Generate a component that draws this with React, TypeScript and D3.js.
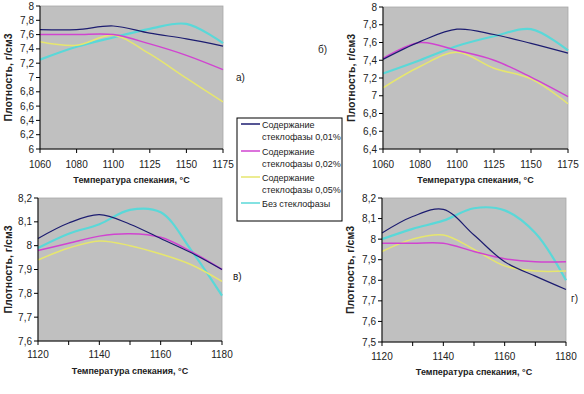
import React from "react";
import * as d3 from "d3";

const seriesNames = [
  ["Содержание", "стеклофазы 0,01%"],
  ["Содержание", "стеклофазы 0,02%"],
  ["Содержание", "стеклофазы 0,05%"],
  ["Без стеклофазы"],
];
const seriesColors = ["#1c1c70", "#d044d0", "#e6e66e", "#5ad8d8"];
const seriesWidths = [1.2, 1.5, 1.5, 2.2];

const topCategories = [1060, 1080, 1100, 1125, 1150, 1175];
const bottomCategories = [1120, 1130, 1140, 1150, 1160, 1170, 1180];
const bottomTickLabels = [1120, 1140, 1160, 1180];

// panel а)
const aNavy = [7.67, 7.67, 7.72, 7.62, 7.54, 7.44];
const aMagenta = [7.6, 7.6, 7.6, 7.47, 7.31, 7.11];
const aYellow = [7.5, 7.45, 7.59, 7.33, 6.99, 6.66];
const aCyan = [7.25, 7.43, 7.56, 7.68, 7.75, 7.48];
const aTicks = [6, 6.2, 6.4, 6.6, 6.8, 7, 7.2, 7.4, 7.6, 7.8, 8];

// panel б)
const bNavy = [7.41, 7.61, 7.75, 7.69, 7.59, 7.48];
const bMagenta = [7.42, 7.6, 7.51, 7.4, 7.21, 6.99];
const bYellow = [7.09, 7.33, 7.49, 7.31, 7.19, 6.91];
const bCyan = [7.25, 7.4, 7.56, 7.67, 7.75, 7.51];
const bTicks = [6.4, 6.6, 6.8, 7, 7.2, 7.4, 7.6, 7.8, 8];

// panel в)
const cNavy = [8.03, 8.095, 8.13, 8.09, 8.03, 7.97, 7.9];
const cMagenta = [7.98, 8.01, 8.04, 8.05, 8.035, 7.975, 7.9];
const cYellow = [7.94, 7.99, 8.02, 8.0, 7.965, 7.92, 7.85];
const cCyan = [7.99, 8.05, 8.09, 8.15, 8.14, 7.98, 7.79];
const cTicks = [7.6, 7.7, 7.8, 7.9, 8, 8.1, 8.2];

// panel г)
const dNavy = [8.03, 8.11, 8.145, 8.02, 7.89, 7.82, 7.755];
const dMagenta = [7.98, 7.98, 7.98, 7.94, 7.905, 7.89, 7.89];
const dYellow = [7.94, 8.0, 8.02, 7.95, 7.87, 7.845, 7.845];
const dCyan = [8.0, 8.05, 8.09, 8.15, 8.14, 8.03, 7.8];
const dTicks = [7.5, 7.6, 7.7, 7.8, 7.9, 8, 8.1, 8.2];

const yTitle = "Плотность, г/см3";
const xTitle = "Температура спекания, °C";

const FONT = "'Liberation Sans', Arial, sans-serif";

type PanelProps = {
  left: number; right: number; top: number; bottom: number;
  cats: number[]; tickCats: number[]; series: number[][]; yTicks: number[];
  xLabelY: number; xTitleY: number; yTitleX: number;
  label: string; labelX: number; labelY: number;
};

const fmt = (v: number) => {
  const s = d3.format(".1f")(v);
  return (s.endsWith(".0") ? s.slice(0, -2) : s).replace(".", ",");
};

function Panel(p: PanelProps) {
  const x = d3.scaleLinear().domain([p.cats[0], p.cats[p.cats.length - 1]]).range([p.left, p.right]);
  const idx = d3.scalePoint<number>().domain(p.cats).range([p.left, p.right]);
  const equalSpacing = p.cats.length === 6;
  const xp = (c: number) => (equalSpacing ? (idx(c) as number) : x(c));
  const y = d3.scaleLinear().domain([p.yTicks[0], p.yTicks[p.yTicks.length - 1]]).range([p.bottom, p.top]);
  const line = d3.line<number>()
    .x((_, i) => xp(p.cats[i]))
    .y((d) => y(d))
    .curve(d3.curveCatmullRom.alpha(0.5));
  const cx = (p.left + p.right) / 2;
  const cy = (p.top + p.bottom) / 2;
  return (
    <g>
      <rect x={p.left} y={p.top} width={p.right - p.left} height={p.bottom - p.top} fill="#c0c0c0" stroke="#a8a8a8" strokeWidth={0.8} />
      {p.series.map((s, i) => (
        <path key={i} d={line(s) || ""} fill="none" stroke={seriesColors[i]} strokeWidth={seriesWidths[i]} />
      )).reverse()}
      <line x1={p.left} x2={p.left} y1={p.top} y2={p.bottom} stroke="#000" strokeWidth={1} />
      <line x1={p.left} x2={p.right} y1={p.bottom} y2={p.bottom} stroke="#000" strokeWidth={1} />
      {p.yTicks.map((t) => (
        <g key={t}>
          <line x1={p.left - 4} x2={p.left} y1={y(t)} y2={y(t)} stroke="#000" />
          <text x={p.left - 6} y={y(t)} dy="0.35em" textAnchor="end" fontSize={10} fill="#222" fontFamily={FONT}>{fmt(t)}</text>
        </g>
      ))}
      {p.cats.map((c) => (
        <line key={c} x1={xp(c)} x2={xp(c)} y1={p.bottom} y2={p.bottom + 4} stroke="#000" />
      ))}
      {p.tickCats.map((c) => (
        <text key={c} x={xp(c)} y={p.xLabelY} dy="0.35em" textAnchor="middle" fontSize={10} fill="#222" fontFamily={FONT}>{c}</text>
      ))}
      <text x={cx} y={p.xTitleY} dy="0.35em" textAnchor="middle" fontSize={9} fontWeight="bold" fill="#222" fontFamily={FONT}>{xTitle}</text>
      <text transform={`translate(${p.yTitleX},${cy}) rotate(-90)`} dy="0.35em" textAnchor="middle" fontSize={10.5} fontWeight="bold" fill="#222" fontFamily={FONT}>{yTitle}</text>
      <text x={p.labelX} y={p.labelY} dy="0.35em" fontSize={10} fill="#222" fontFamily={FONT}>{p.label}</text>
    </g>
  );
}

function Legend() {
  const x0 = 237, y0 = 118, w = 105, h = 103;
  const rows = [124, 151, 177, 203];
  return (
    <g>
      <rect x={x0} y={y0} width={w} height={h} fill="#fff" stroke="#000" strokeWidth={1} />
      {seriesNames.map((lines, i) => (
        <g key={i}>
          <line x1={241} x2={260} y1={rows[i]} y2={rows[i]} stroke={seriesColors[i]} strokeWidth={1.5} />
          {lines.map((ln, j) => (
            <text key={j} x={262} y={rows[i] + 1 + j * 11.5} dy="0.35em" fontSize={9} fill="#222" fontFamily={FONT}>{ln}</text>
          ))}
        </g>
      ))}
    </g>
  );
}

export default function App() {
  return (
    <svg width={584} height={394} style={{ position: "absolute", left: 0, top: 0, background: "#fff" }}>
      <Panel left={40} right={223} top={6} bottom={149} cats={topCategories} tickCats={topCategories}
        series={[aNavy, aMagenta, aYellow, aCyan]} yTicks={aTicks}
        xLabelY={164} xTitleY={180} yTitleX={8} label="а)" labelX={236} labelY={77} />
      <Panel left={383} right={568} top={7} bottom={149} cats={topCategories} tickCats={topCategories}
        series={[bNavy, bMagenta, bYellow, bCyan]} yTicks={bTicks}
        xLabelY={164} xTitleY={180} yTitleX={351} label="б)" labelX={318} labelY={49} />
      <Panel left={38} right={222} top={198} bottom={341} cats={bottomCategories} tickCats={bottomTickLabels}
        series={[cNavy, cMagenta, cYellow, cCyan]} yTicks={cTicks}
        xLabelY={354} xTitleY={371} yTitleX={8} label="в)" labelX={233} labelY={276} />
      <Panel left={382} right={566} top={198} bottom={342} cats={bottomCategories} tickCats={bottomTickLabels}
        series={[dNavy, dMagenta, dYellow, dCyan]} yTicks={dTicks}
        xLabelY={356} xTitleY={372} yTitleX={350} label="г)" labelX={571} labelY={298} />
      <Legend />
    </svg>
  );
}
